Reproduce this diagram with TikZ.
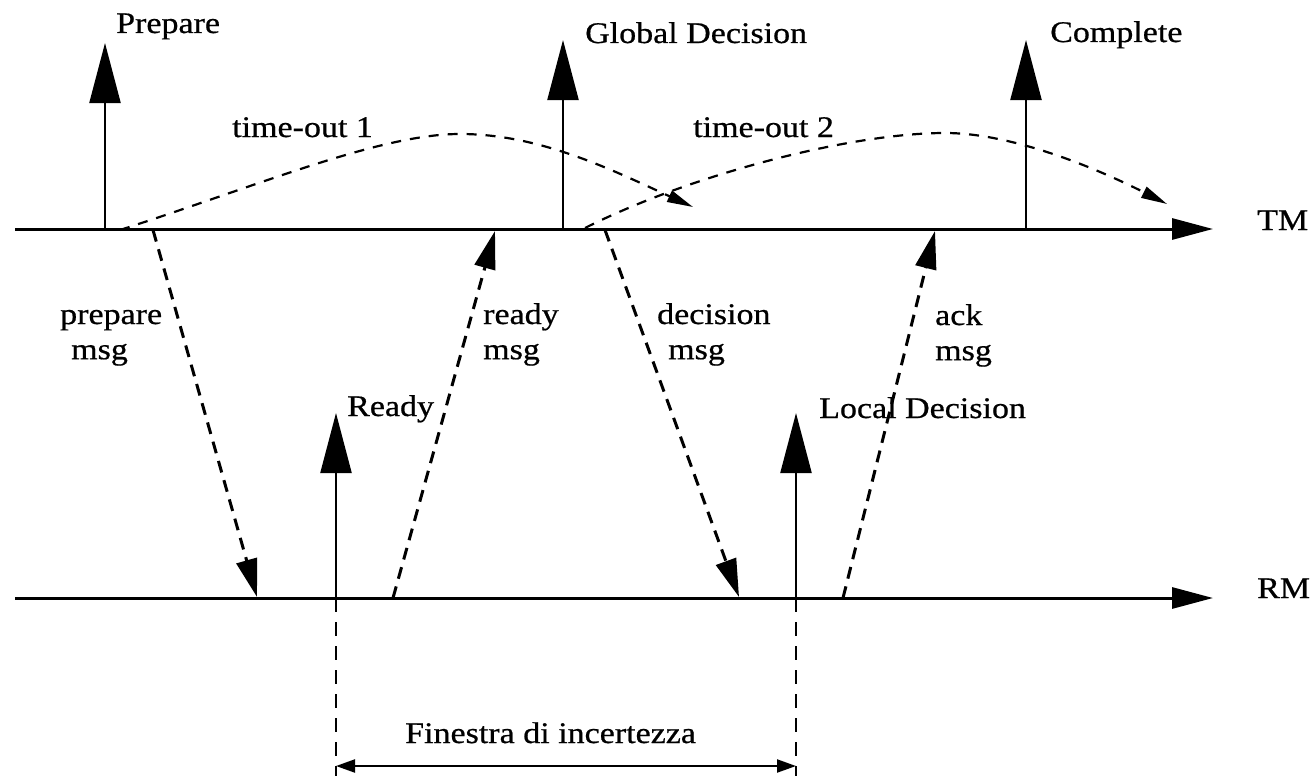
\documentclass[tikz,border=0pt]{standalone}
\usepackage{fontspec}
\usepackage{graphicx}
\setmainfont[FakeBold=0.6,AutoFakeBold=0.6]{Liberation Serif}
\usetikzlibrary{arrows.meta}
\newcommand\sq[1]{\scalebox{1}[0.88]{#1}}
\begin{document}
\begin{tikzpicture}[x=1pt,y=-1pt,
  lbl/.style={inner sep=0pt, anchor=base west, font=\fontsize{34}{40}\selectfont},
  axisline/.style={line width=3pt, -{Triangle[length=41pt,width=21pt]}},
  eventarrow/.style={line width=2.2pt, -{Triangle[length=60pt,width=31pt]}},
  msgarrow/.style={line width=3pt, dash pattern=on 12pt off 8pt, -{Triangle[length=38pt,width=21pt]}},
  timeoutarrow/.style={line width=2.2pt, dash pattern=on 10pt off 9pt, -{Triangle[length=26pt,width=12pt]}},
  guideline/.style={line width=1.6pt, dash pattern=on 14pt off 10pt},
  spanarrow/.style={line width=2.2pt, {Triangle[length=19pt,width=13pt]}-{Triangle[length=19pt,width=13pt]}},
]
\useasboundingbox (0,0) rectangle (1312,776);
\fill[white] (0,0) rectangle (1312,776);

% axes
\coordinate (tmS) at (15,229);  \coordinate (tmE) at (1213,229);
\coordinate (rmS) at (15,598);  \coordinate (rmE) at (1213,598);
\draw[axisline] (tmS) -- (tmE);
\draw[axisline] (rmS) -- (rmE);
\node[lbl] (tm) at (1257,230) {\sq{TM}};
\node[lbl] (rm) at (1257,598) {\sq{RM}};

% events on TM
\coordinate (prepB) at (105,229);  \coordinate (prepT) at (105,43);
\coordinate (gdB) at (563,229);    \coordinate (gdT) at (563,40);
\coordinate (compB) at (1026,229); \coordinate (compT) at (1026,40);
\draw[eventarrow] (prepB) -- (prepT);
\draw[eventarrow] (gdB) -- (gdT);
\draw[eventarrow] (compB) -- (compT);
\node[lbl] (prepare) at (116,33) {\sq{Prepare}};
\node[lbl] (global) at (585,43) {\sq{Global Decision}};
\node[lbl] (complete) at (1050,42) {\sq{Complete}};

% events on RM
\coordinate (rdyB) at (336,598);  \coordinate (rdyT) at (336,413);
\coordinate (ldB) at (796,598);   \coordinate (ldT) at (796,413);
\draw[eventarrow] (rdyB) -- (rdyT);
\draw[eventarrow] (ldB) -- (ldT);
\node[lbl] (ready) at (347,416) {\sq{Ready}};
\node[lbl] (local) at (819,418) {\sq{Local Decision}};

% messages
\coordinate (pmS) at (153,230); \coordinate (pmE) at (257,597);
\coordinate (rmsS) at (393,598); \coordinate (rmsE) at (495,231);
\coordinate (dmS) at (605,230); \coordinate (dmE) at (739,597);
\coordinate (amS) at (843,598); \coordinate (amE) at (935,231);
\draw[msgarrow] (pmS) -- (pmE);
\draw[msgarrow] (rmsS) -- (rmsE);
\draw[msgarrow] (dmS) -- (dmE);
\draw[msgarrow] (amS) -- (amE);
\node[lbl] (pmsg) at (60,324) {\sq{\begin{tabular}[t]{@{}l@{}}prepare\\\hspace*{11pt}msg\end{tabular}}};
\node[lbl] (rmsg) at (483,324) {\sq{\begin{tabular}[t]{@{}l@{}}ready\\msg\end{tabular}}};
\node[lbl] (dmsg) at (657,324) {\sq{\begin{tabular}[t]{@{}l@{}}decision\\\hspace*{11pt}msg\end{tabular}}};
\node[lbl] (amsg) at (935,325) {\sq{\begin{tabular}[t]{@{}l@{}}ack\\msg\end{tabular}}};

% time-outs
\coordinate (t1S) at (120,230); \coordinate (t1P) at (460,134); \coordinate (t1E) at (693,207);
\coordinate (t2S) at (585,228); \coordinate (t2P) at (945,133); \coordinate (t2E) at (1167,204);
\draw[timeoutarrow] (t1S) .. controls (260,185) and (380,134) .. (t1P)
   .. controls (540,134) and (612,170) .. (t1E);
\draw[timeoutarrow] (t2S) .. controls (690,175) and (850,133) .. (t2P)
   .. controls (1010,133) and (1092,166) .. (t2E);
\node[lbl] (to1) at (232,137) {\sq{time-out 1}};
\node[lbl] (to2) at (693,137) {\sq{time-out 2}};

% uncertainty window
\coordinate (g1) at (336,776); \coordinate (g2) at (796,776);
\coordinate (w1) at (336,766); \coordinate (w2) at (796,766);
\draw[guideline] (rdyB) -- (g1);
\draw[guideline] (ldB) -- (g2);
\draw[spanarrow] (w1) -- (w2);
\node[lbl] (window) at (405,743) {\sq{Finestra di incertezza}};
\end{tikzpicture}
\end{document}
